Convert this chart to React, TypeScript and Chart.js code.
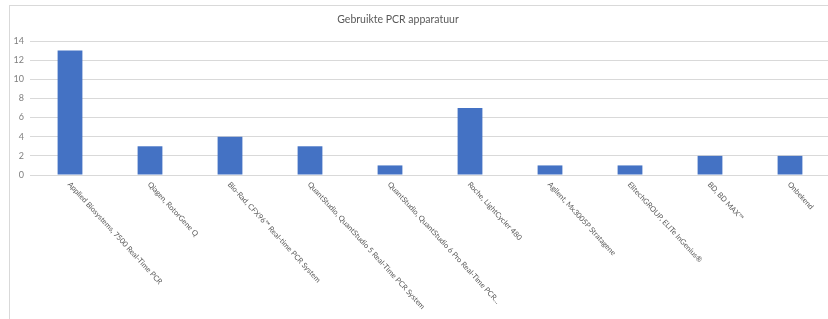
import React, { useEffect, useRef } from "react";
import { Chart, registerables } from "chart.js";

Chart.register(...registerables);

const TITLE = "Gebruikte PCR apparatuur";
const CATEGORIES = [
  "Applied Biosystems, 7500 Real-Time PCR",
  "Qiagen, RotorGene Q",
  "Bio-Rad, CFX96™ Real-time PCR System",
  "QuantStudio, QuantStudio 5 Real-Time PCR System",
  "QuantStudio, QuantStudio 6 Pro Real-Time PCR...",
  "Roche, LightCycler 480",
  "Agilent, Mx3005P Stratagene",
  "ElitechGROUP, ELITe InGenius®",
  "BD, BD MAX™",
  "Onbekend",
];
const COUNTS = [13, 3, 4, 3, 1, 7, 1, 1, 2, 2];
const Y_MIN = 0;
const Y_MAX = 14;
const Y_STEP = 2;

const FONT = "Lato, 'Open Sans', sans-serif";
const TEXT_COLOR = "#595959";
const GRID_COLOR = "#d9d9d9";
const BAR_COLOR = "#4472C4";

const labelPlugin = {
  id: "customLabels",
  afterDraw(chart: any) {
    const ctx = chart.ctx;
    const x = chart.scales.x;
    const area = chart.chartArea;
    ctx.save();
    ctx.fillStyle = TEXT_COLOR;
    ctx.font = `10.5px ${FONT}`;
    ctx.textAlign = "center";
    ctx.textBaseline = "middle";
    ctx.fillText(TITLE, 388, 14);
    ctx.font = `7.5px ${FONT}`;
    ctx.textAlign = "left";
    ctx.textBaseline = "middle";
    CATEGORIES.forEach((lab, i) => {
      const px = x.getPixelForTick(i);
      ctx.save();
      ctx.translate(px - 1, area.bottom + 8);
      ctx.rotate((47.5 * Math.PI) / 180);
      ctx.fillText(lab, 0, 0);
      ctx.restore();
    });
    ctx.restore();
  },
};

export default function App() {
  const ref = useRef<HTMLCanvasElement>(null);
  useEffect(() => {
    if (!ref.current) return;
    const chart = new Chart(ref.current, {
      type: "bar",
      data: {
        labels: CATEGORIES,
        datasets: [
          {
            data: COUNTS,
            backgroundColor: BAR_COLOR,
            categoryPercentage: 1,
            barPercentage: 0.31,
          },
        ],
      },
      options: {
        animation: false,
        responsive: false,
        devicePixelRatio: 1,
        layout: { padding: { top: 35, left: 0, right: 0, bottom: 0 } },
        plugins: { legend: { display: false }, tooltip: { enabled: false }, title: { display: false } },
        scales: {
          x: {
            grid: { display: false },
            border: { display: true, color: GRID_COLOR },
            ticks: { display: false },
            afterFit: (s: any) => {
              s.height = 151;
            },
          },
          y: {
            min: Y_MIN,
            max: Y_MAX,
            grid: { color: GRID_COLOR, drawTicks: false },
            border: { display: false },
            ticks: {
              stepSize: Y_STEP,
              padding: 6,
              color: "#7f7f7f",
              font: { family: FONT, size: 9 },
            },
            afterFit: (s: any) => {
              s.width = 20;
            },
          },
        },
      },
      plugins: [labelPlugin],
    });
    return () => chart.destroy();
  }, []);
  return (
    <div style={{ position: "absolute", left: 0, top: 0, width: 828, height: 319, overflow: "hidden", background: "#fff" }}>
      <div style={{ position: "absolute", left: 9, top: 5, width: 820, height: 320, border: `1px solid ${GRID_COLOR}` }}>
        <canvas ref={ref} width={820} height={320} style={{ display: "block" }} />
      </div>
    </div>
  );
}
